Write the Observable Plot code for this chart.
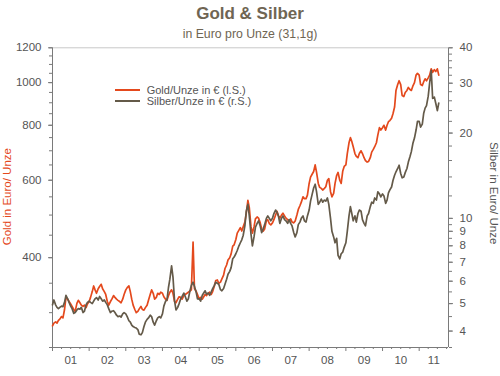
<!DOCTYPE html>
<html>
<head>
<meta charset="utf-8">
<script src="https://cdn.jsdelivr.net/npm/d3@7"></script>
<script src="https://cdn.jsdelivr.net/npm/@observablehq/plot@0.6"></script>
<style>
  html, body { margin: 0; padding: 0; background: #fff; }
  #wrap { position: relative; width: 500px; height: 376px; font-family: "Liberation Sans", Arial, sans-serif; }
  #head { position: relative; width: 500px; height: 42px; }
  #title { position: absolute; left: 0; width: 500px; top: 3.5px; line-height: 20px; text-align: center; font-size: 17px; font-weight: bold; color: #6f6553; }
  #sub { position: absolute; left: 0; width: 500px; top: 26px; line-height: 16px; text-align: center; font-size: 12.3px; color: #6f6553; }
  #legend { position: absolute; left: 115px; top: 84.5px; font-size: 11px; color: #555; }
  .item { position: relative; height: 11px; line-height: 11px; }
  .sw { position: absolute; left: 0; top: 4.5px; width: 25px; height: 2px; }
  .lt { position: absolute; left: 31.7px; top: 0; white-space: nowrap; line-height: 11px; }
</style>
</head>
<body>
<div id="wrap">
  <div id="head">
    <div id="title">Gold &amp; Silber</div>
    <div id="sub">in Euro pro Unze (31,1g)</div>
  </div>
  <div id="chart"></div>
  <div id="legend">
    <div class="item"><div class="sw" style="background:#e4491d"></div><div class="lt">Gold/Unze in € (l.S.)</div></div>
    <div class="item"><div class="sw" style="background:#645a49"></div><div class="lt">Silber/Unze in € (r.S.)</div></div>
  </div>
</div>
<script>
// Semi-monthly values (1st and 15th of each month), Euro per ounce
const gold2001 = [280, 284, 286, 284, 288, 290, 294, 292, 305, 325, 322, 318, 314, 310, 305, 302, 315, 320, 316, 312, 310, 312, 308, 314];
const gold2002 = [318, 325, 335, 345, 338, 332, 340, 344, 348, 340, 335, 330, 318, 312, 318, 322, 328, 325, 322, 320, 318, 316, 322, 330];
const gold2003 = [338, 342, 345, 335, 322, 312, 305, 300, 302, 306, 310, 305, 304, 308, 312, 320, 330, 338, 332, 322, 325, 332, 330, 334];
const gold2004 = [332, 326, 322, 320, 328, 334, 338, 332, 318, 316, 322, 326, 325, 322, 328, 330, 332, 334, 336, 338, 434, 340, 336, 330];
const gold2005 = [322, 325, 322, 326, 330, 328, 332, 334, 330, 335, 345, 355, 356, 350, 352, 358, 365, 378, 385, 395, 400, 408, 425, 428];
const gold2006 = [440, 455, 462, 468, 460, 470, 482, 505, 540, 520, 470, 455, 470, 490, 495, 492, 480, 465, 460, 465, 485, 488, 478, 475];
const gold2007 = [480, 488, 500, 510, 498, 492, 500, 505, 498, 492, 488, 484, 490, 482, 480, 485, 500, 515, 525, 535, 550, 545, 545, 555];
const gold2008 = [590, 610, 620, 628, 650, 625, 590, 578, 575, 570, 575, 580, 600, 605, 565, 550, 560, 590, 615, 625, 600, 590, 630, 645];
const gold2009 = [650, 690, 730, 750, 735, 715, 690, 680, 675, 690, 700, 690, 675, 665, 660, 662, 675, 695, 705, 715, 730, 760, 790, 780];
const gold2010 = [790, 800, 780, 800, 815, 820, 830, 850, 880, 960, 990, 1010, 990, 935, 930, 950, 960, 975, 965, 960, 985, 1000, 1040, 1050];
const gold2011 = [1040, 990, 985, 1005, 1020, 1010, 1025, 1040, 1075, 1055, 1070, 1060, 1075, 1040];

const silver2001 = [4.95, 5.15, 4.95, 4.85, 4.80, 4.85, 4.90, 4.88, 5.05, 5.35, 5.20, 5.05, 4.90, 4.80, 4.62, 4.65, 4.75, 4.80, 4.78, 4.85, 4.65, 4.70, 4.95, 5.05];
const silver2002 = [5.10, 5.05, 5.00, 5.10, 5.20, 5.25, 5.15, 5.30, 5.20, 5.10, 5.15, 5.05, 4.95, 4.80, 4.65, 4.70, 4.72, 4.65, 4.55, 4.50, 4.52, 4.48, 4.60, 4.65];
const silver2003 = [4.60, 4.50, 4.35, 4.30, 4.20, 4.15, 4.12, 4.10, 4.05, 3.90, 3.88, 3.95, 4.15, 4.30, 4.40, 4.45, 4.55, 4.50, 4.30, 4.20, 4.35, 4.45, 4.50, 4.45];
const silver2004 = [4.60, 4.90, 5.10, 5.15, 5.70, 6.10, 6.80, 6.20, 5.10, 4.75, 4.85, 5.00, 5.20, 5.30, 5.45, 5.30, 5.10, 5.20, 5.55, 5.80, 5.95, 5.75, 5.50, 5.20];
const silver2005 = [5.20, 5.10, 5.35, 5.45, 5.55, 5.40, 5.45, 5.35, 5.50, 5.65, 5.80, 5.95, 5.90, 5.85, 5.60, 5.55, 5.65, 5.85, 6.10, 6.35, 6.50, 6.70, 7.20, 7.30];
const silver2006 = [7.50, 7.70, 8.00, 8.20, 8.40, 8.70, 9.40, 10.60, 11.20, 10.20, 8.80, 8.00, 8.60, 9.30, 9.60, 9.80, 9.40, 8.90, 9.20, 9.50, 10.00, 10.20, 10.00, 9.80];
const silver2007 = [10.00, 10.40, 10.70, 10.50, 10.20, 9.60, 10.00, 10.20, 9.90, 9.80, 9.60, 9.90, 9.60, 9.40, 8.90, 8.60, 8.90, 9.50, 9.70, 10.00, 10.20, 9.80, 9.70, 10.20];
const silver2008 = [10.70, 11.50, 12.20, 12.80, 13.20, 12.40, 11.20, 11.40, 11.70, 11.40, 11.60, 11.50, 11.80, 11.20, 10.00, 9.00, 8.60, 8.20, 8.50, 7.40, 7.20, 7.50, 7.60, 7.90];
const silver2009 = [8.20, 9.00, 10.20, 11.00, 10.40, 9.80, 10.20, 9.70, 10.40, 10.70, 10.60, 9.90, 9.60, 9.40, 10.20, 10.40, 11.00, 11.40, 11.30, 11.80, 11.60, 12.40, 12.20, 11.90];
const silver2010 = [12.20, 12.00, 11.30, 11.60, 12.30, 12.60, 12.90, 13.60, 14.20, 14.60, 15.00, 15.40, 14.40, 13.90, 14.00, 14.50, 15.00, 15.80, 16.50, 17.20, 18.50, 19.20, 20.50, 22.00];
const silver2011 = [22.00, 21.00, 21.50, 23.50, 24.50, 25.00, 27.00, 30.00, 33.30, 26.50, 26.80, 25.50, 24.00, 25.50];

const goldTicks = [400, 600, 800, 1000, 1200];
const silverTicks = [4, 5, 6, 7, 8, 9, 10, 20, 30, 40];
const yearLabels = ["01", "02", "03", "04", "05", "06", "07", "08", "09", "10", "11"];

const goldAll = [].concat(gold2001, gold2002, gold2003, gold2004, gold2005, gold2006, gold2007, gold2008, gold2009, gold2010, gold2011);
const silverAll = [].concat(silver2001, silver2002, silver2003, silver2004, silver2005, silver2006, silver2007, silver2008, silver2009, silver2010, silver2011);

const data = goldAll.map((g, i) => ({
  date: new Date(Date.UTC(2001 + Math.floor(i / 24), Math.floor((i % 24) / 2), i % 2 ? 15 : 1)),
  gold: g,
  silver: silverAll[i]
}));

const goldDomain = [250, 1200];
const silverDomain = [3.5, 40];
const xStart = new Date(Date.UTC(2001, 0, 1));
const xEnd = new Date(Date.UTC(2011, 9, 20));

// map silver onto the gold (left) log scale so both share the plot's y scale
const sScale = d3.scaleLog().domain(silverDomain).range([Math.log(goldDomain[0]), Math.log(goldDomain[1])]);
const toG = s => Math.exp(sScale(s));
const fromG = g => sScale.invert(Math.log(g));

const goldMinor = d3.range(250, 1201, 50);
const silverMinor = d3.range(3.5, 10, 0.5).concat(d3.range(10, 41, 2));

const yearStarts = d3.range(2001, 2012).map(y => new Date(Date.UTC(y, 0, 1)));
const quarters = [];
for (let y = 2001; y <= 2011; y++) for (let q = 1; q < 4; q++) {
  const d = new Date(Date.UTC(y, q * 3, 1));
  if (d < xEnd) quarters.push(d);
}
const mids = yearLabels.map((l, i) => {
  const a = yearStarts[i];
  const b = i < yearStarts.length - 1 ? yearStarts[i + 1] : xEnd;
  return new Date((+a + +b) / 2);
});
const midLabel = new Map(mids.map((d, i) => [+d, yearLabels[i]]));

const axisColor = "#7a7a7a";
const textColor = "#555";

const chart = Plot.plot({
  width: 500,
  height: 334,
  marginTop: 5.3,
  marginBottom: 29,
  marginLeft: 52,
  marginRight: 52,
  style: { background: "white", fontFamily: "Liberation Sans, Arial, sans-serif", fontSize: "11.5px", color: textColor },
  x: { type: "utc", domain: [xStart, xEnd], axis: null },
  y: { type: "log", domain: goldDomain, axis: null },
  marks: [
    Plot.ruleY([goldDomain[1]], { stroke: "#c8c8c8" }),
    Plot.ruleX([xStart, xEnd], { stroke: axisColor }),
    Plot.ruleY([goldDomain[0]], { stroke: axisColor }),
    // left gold axis
    Plot.axisY({ ticks: goldMinor, anchor: "left", label: null, tickSize: 3, tickFormat: () => "", stroke: axisColor }),
    Plot.axisY({ ticks: goldTicks, anchor: "left", label: null, tickSize: 4, tickPadding: 7, fontSize: 11.5, stroke: axisColor, fill: textColor, tickFormat: d => String(d) }),
    // right silver axis
    Plot.axisY({ ticks: silverMinor.map(toG), anchor: "right", label: null, tickSize: 3, tickFormat: () => "", stroke: axisColor }),
    Plot.axisY({ ticks: silverTicks.map(toG), anchor: "right", label: null, tickSize: 4, tickPadding: 7, fontSize: 11.5, stroke: axisColor, fill: textColor, tickFormat: d => String(Math.round(fromG(d))) }),
    // x axis
    Plot.axisX({ ticks: quarters, anchor: "bottom", label: null, tickSize: 2, tickFormat: () => "", stroke: axisColor }),
    Plot.axisX({ ticks: yearStarts, anchor: "bottom", label: null, tickSize: 4, tickFormat: () => "", stroke: axisColor }),
    Plot.axisX({ ticks: mids, anchor: "bottom", label: null, tickSize: 0, tickPadding: 8, fontSize: 11.5, fill: textColor, tickFormat: d => midLabel.get(+d) }),
    // axis titles
    Plot.text(["Gold in Euro/ Unze"], { frameAnchor: "left", dx: -45.5, dy: -1, rotate: -90, textAnchor: "middle", lineAnchor: "middle", fill: "#e4491d", fontSize: 11.5 }),
    Plot.text(["Silber in Euro/ Unze"], { frameAnchor: "right", dx: 45, dy: -4.5, rotate: 90, textAnchor: "middle", lineAnchor: "middle", fill: "#555", fontSize: 11.5 }),
    // series
    Plot.line(data, { x: "date", y: "gold", stroke: "#e4491d", strokeWidth: 1.7 }),
    Plot.line(data, { x: "date", y: d => toG(d.silver), stroke: "#645a49", strokeWidth: 1.7 })
  ]
});
document.getElementById("chart").appendChild(chart);
</script>
</body>
</html>
